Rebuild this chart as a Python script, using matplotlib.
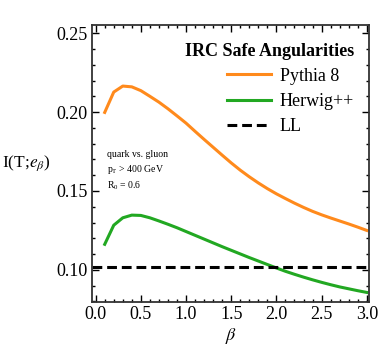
import numpy as np
import matplotlib
matplotlib.use("Agg")
import matplotlib.pyplot as plt
from matplotlib.ticker import MultipleLocator, FormatStrFormatter

plt.rcParams['font.family'] = ['Liberation Serif', 'DejaVu Serif']
plt.rcParams['mathtext.fontset'] = 'stix'

beta = [0.1, 0.2, 0.3, 0.4, 0.5, 0.6, 0.7, 0.8, 0.9, 1.0,
        1.1, 1.2, 1.3, 1.4, 1.5, 1.6, 1.7, 1.8, 1.9, 2.0,
        2.1, 2.2, 2.3, 2.4, 2.5, 2.6, 2.7, 2.8, 2.9, 3.0]
pythia = [0.1998, 0.2127, 0.2165, 0.2160, 0.2136, 0.2100, 0.2063, 0.2021, 0.1976, 0.1930,
          0.1878, 0.1827, 0.1777, 0.1727, 0.1678, 0.1632, 0.1590, 0.1551, 0.1515, 0.1482,
          0.1452, 0.1423, 0.1396, 0.1371, 0.1349, 0.1329, 0.1310, 0.1291, 0.1271, 0.1250]
herwig = [0.1162, 0.1283, 0.1330, 0.1347, 0.1345, 0.1330, 0.1310, 0.1289, 0.1267, 0.1243,
          0.1219, 0.1195, 0.1171, 0.1147, 0.1124, 0.1101, 0.1078, 0.1056, 0.1034, 0.1012,
          0.0991, 0.0972, 0.0954, 0.0937, 0.0921, 0.0906, 0.0892, 0.0880, 0.0868, 0.0857]
ll_value = 0.102

fig = plt.figure(figsize=(3.82, 3.5), dpi=100)
ax = fig.add_axes([0.241, 0.137, 0.725, 0.792])

ax.plot(beta, pythia, color='#ff8a1c', lw=2.2, label='Pythia 8')
ax.plot(beta, herwig, color='#22a822', lw=2.2, label='Herwig++')
ax.axhline(ll_value, color='black', lw=2.2, ls=(0, (3.2, 1.6)), label='LL')

ax.set_xlim(-0.04, 3.025)
ax.set_ylim(0.0796, 0.2553)
ax.xaxis.set_major_locator(MultipleLocator(0.5))
ax.xaxis.set_minor_locator(MultipleLocator(0.1))
ax.yaxis.set_major_locator(MultipleLocator(0.05))
ax.yaxis.set_minor_locator(MultipleLocator(0.01))
ax.xaxis.set_major_formatter(FormatStrFormatter('%.1f'))
ax.yaxis.set_major_formatter(FormatStrFormatter('%.2f'))
ax.tick_params(which='both', direction='in', top=True, right=True, labelsize=13, width=1)
ax.tick_params(which='major', length=5, pad=3)
ax.tick_params(which='minor', length=2.5)
for s in ax.spines.values():
    s.set_linewidth(1.3)
    s.set_color('#333333')

ax.set_xlabel(r'$\beta$', fontsize=13, labelpad=2)
ax.set_ylabel(r'I(T;$e_\beta$)', fontsize=12.5, rotation=0, labelpad=22, va='center')

ax.text(0.055, 0.548, 'quark vs. gluon\n$\\mathregular{p_T}$ > 400 GeV\n$\\mathregular{R_0}$ = 0.6',
        transform=ax.transAxes, fontsize=7, va='top', ha='left', linespacing=1.4)

leg = ax.legend(loc='upper right', frameon=False, fontsize=13, title='IRC Safe Angularities',
                title_fontproperties={'weight': 'bold', 'size': 13}, alignment='right',
                handlelength=2.4, handletextpad=0.5, labelspacing=0.45,
                borderaxespad=0.2, bbox_to_anchor=(0.985, 0.975))

fig.savefig('out.png', dpi=100)
